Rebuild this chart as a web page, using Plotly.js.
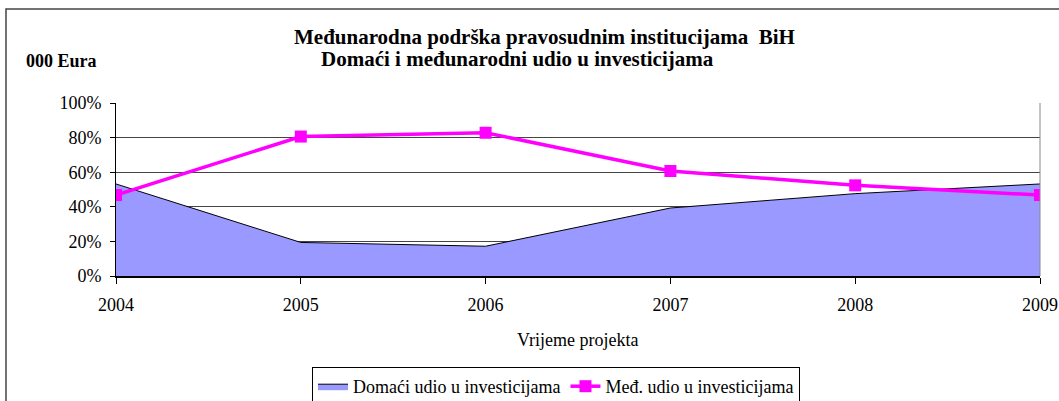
<!DOCTYPE html>
<html>
<head>
<meta charset="utf-8">
<script src="https://cdn.plot.ly/plotly-3.0.1.min.js"></script>
<style>html,body{margin:0;padding:0;background:#fff;}#chart{width:1059px;height:401px;}</style>
</head>
<body>
<div id="chart"></div>
<script>
const years = [2004, 2005, 2006, 2007, 2008, 2009];
const yearLabels = ["2004", "2005", "2006", "2007", "2008", "2009"];
const domaci = [53.2, 19.4, 17.2, 39.3, 47.6, 53.2];
const medjunarodni = [46.8, 80.6, 82.8, 60.7, 52.4, 46.8];
const yTicks = [0, 20, 40, 60, 80, 100];
const yTickLabels = ["0%", "20%", "40%", "60%", "80%", "100%"];

const serif = "'Liberation Serif', 'Times New Roman', serif";

const traces = [
  {
    x: years, y: domaci, type: "scatter", mode: "lines",
    name: "Domaći udio u investicijama",
    fill: "tozeroy", fillcolor: "#9999FF",
    line: {color: "#000000", width: 1}
  },
  {
    x: years, y: medjunarodni, type: "scatter", mode: "lines+markers",
    name: "Međ. udio u investicijama",
    line: {color: "#FF00FF", width: 3.5},
    marker: {symbol: "square", size: 12, color: "#FF00FF"}
  }
];

const L = 116, R = 1040, T = 103, B = 276;
const pw = R - L, ph = B - T;
const px = v => (v - L) / pw;
const py = v => (B - v) / ph;

const layout = {
  width: 1059, height: 401,
  margin: {l: L, r: 1059 - R, t: T, b: 401 - B, pad: 0, autoexpand: false},
  paper_bgcolor: "#ffffff", plot_bgcolor: "#ffffff",
  font: {family: serif, size: 18, color: "#000000"},
  showlegend: true,
  legend: {
    orientation: "h", x: px(312), xanchor: "left", y: py(367), yanchor: "top",
    bgcolor: "#ffffff", bordercolor: "#000000", borderwidth: 1,
    font: {family: serif, size: 18, color: "#000000"},
    itemwidth: 30, tracegroupgap: 0
  },
  xaxis: {
    range: [2004, 2009], tickvals: years, ticktext: yearLabels,
    showgrid: false, zeroline: false,
    showline: true, linecolor: "#000000", linewidth: 2,
    ticks: "outside", ticklen: 6, tickcolor: "#000000", tickwidth: 1,
    ticklabelstandoff: 5,
    tickfont: {family: serif, size: 18, color: "#000000"},
    fixedrange: true
  },
  yaxis: {
    range: [0, 100], tickvals: yTicks, ticktext: yTickLabels,
    showgrid: true, gridcolor: "#444444", gridwidth: 1, zeroline: false,
    showline: true, linecolor: "#000000", linewidth: 1,
    ticks: "outside", ticklen: 5, tickcolor: "#000000", tickwidth: 1,
    ticklabelstandoff: 5,
    tickfont: {family: serif, size: 18, color: "#000000"},
    fixedrange: true
  },
  shapes: [
    {type: "line", xref: "paper", yref: "paper", x0: 1, x1: 1, y0: 0, y1: 1,
     line: {color: "#888888", width: 1}},
    {type: "rect", xref: "paper", yref: "paper",
     x0: px(6), x1: px(1100), y0: py(440), y1: py(9),
     line: {color: "#444444", width: 1.5}, fillcolor: "rgba(0,0,0,0)", layer: "below"}
  ],
  annotations: [
    {text: "<b>Međunarodna podrška pravosudnim institucijama  BiH</b>", xref: "paper", yref: "paper",
     x: px(544.5), y: py(37), xanchor: "center", yanchor: "middle", showarrow: false,
     font: {family: serif, size: 21, color: "#000000"}},
    {text: "<b>Domaći i međunarodni udio u investicijama</b>", xref: "paper", yref: "paper",
     x: px(517.5), y: py(59), xanchor: "center", yanchor: "middle", showarrow: false,
     font: {family: serif, size: 21, color: "#000000"}},
    {text: "<b>000 Eura</b>", xref: "paper", yref: "paper",
     x: px(24), y: py(60.5), xanchor: "left", yanchor: "middle", showarrow: false,
     font: {family: serif, size: 18, color: "#000000"}},
    {text: "Vrijeme projekta", xref: "paper", yref: "paper",
     x: px(577), y: py(340), xanchor: "center", yanchor: "middle", showarrow: false,
     font: {family: serif, size: 18, color: "#000000"}}
  ]
};

Plotly.newPlot("chart", traces, layout, {displayModeBar: false, staticPlot: true});
</script>
</body>
</html>
